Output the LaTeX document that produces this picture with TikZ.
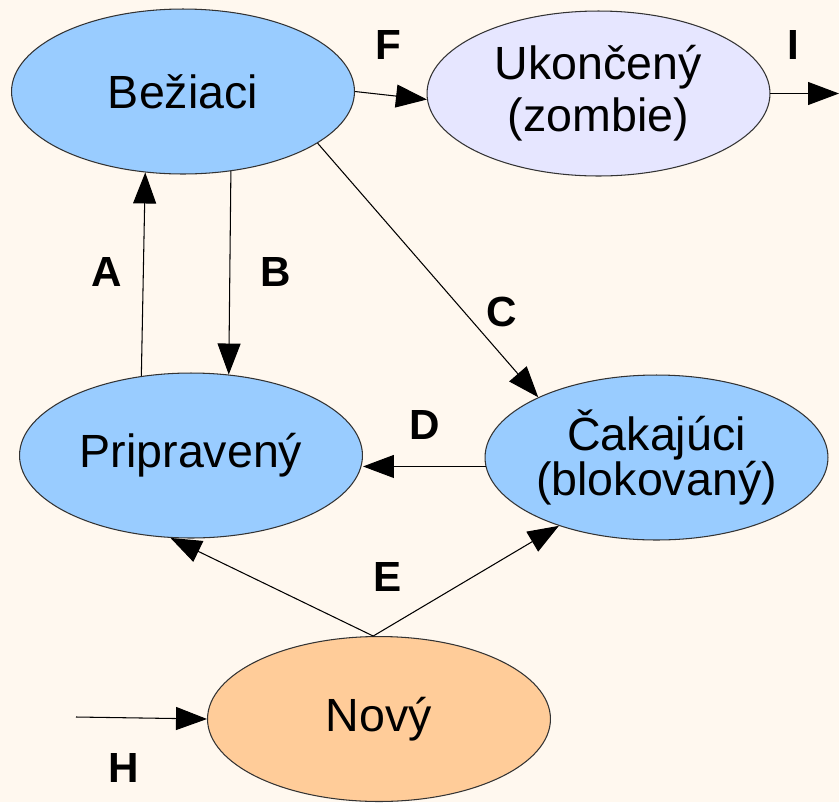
\documentclass[tikz,border=0pt]{standalone}
\usepackage{fontspec}
\setmainfont{Liberation Sans}
\usetikzlibrary{shapes.geometric,arrows.meta}
\definecolor{bg}{HTML}{FFF8EF}
\definecolor{stblue}{HTML}{99CCFF}
\definecolor{stlav}{HTML}{E6E6FF}
\definecolor{storange}{HTML}{FFCC99}
\tikzset{
  state/.style={ellipse, draw=black!80, line width=0.6pt, inner sep=0pt,
    minimum width=6.86cm, minimum height=3.3cm},
  stxt/.style={align=center, inner sep=0pt, font=\fontsize{26.5}{26}\selectfont},
  conn/.style={line width=0.6pt, -{Triangle[length=0.62cm,width=0.46cm]}},
  lbl/.style={font=\fontsize{24}{24}\selectfont\bfseries}
}
\begin{document}
\begin{tikzpicture}[x=0.02cm,y=-0.02cm]
\fill[bg] (0,0) rectangle (839,802);
\useasboundingbox (0,0) rectangle (839,802);
\node[state, fill=stblue] (bez) at (183,91.5) {};
\node[state, fill=stlav] (uk) at (598.5,93.5) {};
\node[state, fill=stblue] (prip) at (191,455.5) {};
\node[state, fill=stblue] (cak) at (656.5,457.5) {};
\node[state, fill=storange] (nov) at (379,719) {};
\node[stxt] (bezt) at (bez) {Bežiaci};
\node[stxt, font=\fontsize{26.5}{29.5}\selectfont] (ukt) at (uk) {Ukončený\\(zombie)};
\node[stxt] (pript) at (prip) {Pripravený};
\node[stxt] (cakt) at (cak) {Čakajúci\\(blokovaný)};
\node[stxt] (novt) at (nov) {Nový};
\coordinate (iend) at (839,93.5);
\coordinate (hstart) at (76,717);
\draw[conn] (bez.east) -- (uk.182);
\draw[conn] (uk.east) -- (iend);
\draw[conn] (prip.122.4) -- (bez.245.3);
\draw[conn] (bez.301.7) -- (prip.65.9);
\draw[conn] (bez.-21.6) -- (cak.153.9);
\draw[conn] (cak.183) -- (prip.east |- cak.183);
\draw[conn] (nov.94) -- (prip.256);
\draw[conn] (nov.94) -- (cak.215.2);
\draw[conn] (hstart) -- (nov.west);
\node[lbl] (lf) at (388,45) {F};
\node[lbl] (li) at (793,45) {I};
\node[lbl] (la) at (107,272) {A};
\node[lbl] (lb) at (276,272) {B};
\node[lbl] (lc) at (502,312) {C};
\node[lbl] (ld) at (425,425) {D};
\node[lbl] (le) at (388,577) {E};
\node[lbl] (lh) at (124,768) {H};
\end{tikzpicture}
\end{document}
